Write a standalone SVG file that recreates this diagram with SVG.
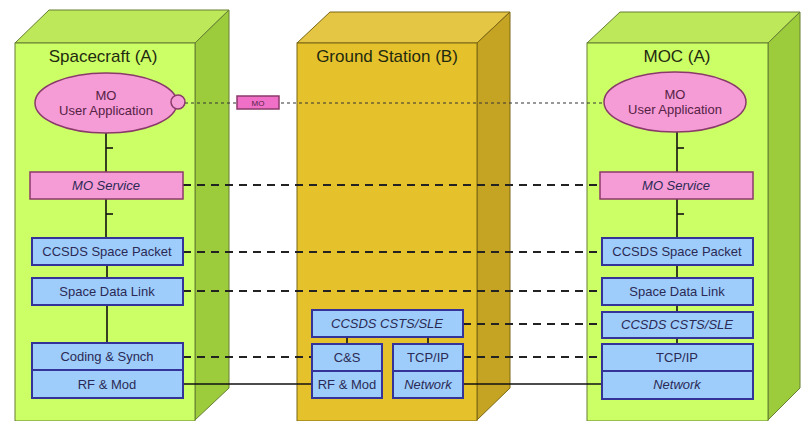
<svg xmlns="http://www.w3.org/2000/svg" width="801" height="421" viewBox="0 0 801 421">
<defs>
<style>
.front-g{fill:#ccff66;stroke:#667f33;stroke-width:1}
.side-g{fill:#9ccc3c;stroke:#667f33;stroke-width:1}
.top-g{fill:#bde85a;stroke:#667f33;stroke-width:1}
.front-y{fill:#e5c12c;stroke:#7a6614;stroke-width:1}
.side-y{fill:#c6a423;stroke:#7a6614;stroke-width:1}
.top-y{fill:#e4c544;stroke:#7a6614;stroke-width:1}
.title{font-family:"Liberation Sans",Arial,sans-serif;font-size:17px;fill:#1f2a10;text-anchor:middle}
.blue{fill:#9fcdfb;stroke:#33339a;stroke-width:2}
.pink{fill:#f59bd6;stroke:#8a3a6a;stroke-width:1.5}
.t{font-family:"Liberation Sans",Arial,sans-serif;font-size:13px;fill:#2a2a55;text-anchor:middle}
.ti{font-family:"Liberation Sans",Arial,sans-serif;font-size:13px;fill:#2a2a55;text-anchor:middle;font-style:italic}
.tp{font-family:"Liberation Sans",Arial,sans-serif;font-size:13px;fill:#552244;text-anchor:middle}
.solid{stroke:#111;stroke-width:1.6;fill:none}
.dash{stroke:#222;stroke-width:2;stroke-dasharray:8,6;fill:none}
.dot{stroke:#333;stroke-width:1;stroke-dasharray:3,3;fill:none}
</style>
</defs>

<g id="spacecraft">
<polygon class="top-g" points="15,43 49,10 229,10 195,43"/>
<polygon class="side-g" points="195,43 229,10 229,388 195,420"/>
<rect class="front-g" x="15" y="43" width="180" height="378"/>
<text class="title" x="103" y="62">Spacecraft (A)</text>
</g>

<g id="ground-station">
<polygon class="top-y" points="297,43 330,12 510,12 477,43"/>
<polygon class="side-y" points="477,43 510,12 510,388 477,420"/>
<rect class="front-y" x="297" y="43" width="180" height="378"/>
<text class="title" x="387" y="62">Ground Station (B)</text>
</g>

<g id="moc">
<polygon class="top-g" points="587,43 620,12 800,12 768,43"/>
<polygon class="side-g" points="768,43 800,12 800,388 768,420"/>
<rect class="front-g" x="587" y="43" width="181" height="378"/>
<text class="title" x="677" y="62">MOC (A)</text>
</g>

<g id="connectors">
<line class="dot" x1="185" y1="103" x2="604" y2="103"/>
<line class="dash" x1="183" y1="185" x2="600" y2="185"/>
<line class="dash" x1="183" y1="252" x2="602" y2="252"/>
<line class="dash" x1="183" y1="291" x2="602" y2="291"/>
<line class="dash" x1="463" y1="324" x2="602" y2="324"/>
<line class="dash" x1="183" y1="357" x2="312" y2="357"/>
<line class="dash" x1="463" y1="357" x2="602" y2="357"/>
<line class="solid" x1="183" y1="384" x2="312" y2="384"/>
<line class="solid" x1="463" y1="384" x2="602" y2="384"/>
<line class="solid" x1="106" y1="133" x2="106" y2="172"/>
<line class="solid" x1="106" y1="148" x2="113" y2="148"/>
<line class="solid" x1="106" y1="199" x2="106" y2="238"/>
<line class="solid" x1="106" y1="214" x2="113" y2="214"/>
<line class="solid" x1="107" y1="265" x2="107" y2="278"/>
<line class="solid" x1="107" y1="305" x2="107" y2="343"/>
<line class="solid" x1="677" y1="132" x2="677" y2="172"/>
<line class="solid" x1="677" y1="148" x2="684" y2="148"/>
<line class="solid" x1="677" y1="199" x2="677" y2="238"/>
<line class="solid" x1="677" y1="214" x2="684" y2="214"/>
<line class="solid" x1="677" y1="265" x2="677" y2="278"/>
<line class="solid" x1="677" y1="305" x2="677" y2="312"/>
<line class="solid" x1="677" y1="338" x2="677" y2="344"/>
<line class="solid" x1="347" y1="337" x2="347" y2="344"/>
<line class="solid" x1="428" y1="337" x2="428" y2="344"/>
</g>

<g id="sc-user-app">
<ellipse class="pink" cx="106" cy="103" rx="71" ry="30"/>
<text class="tp" x="106" y="100">MO</text>
<text class="tp" x="106" y="115">User Application</text>
</g>
<g id="sc-port">
<circle class="pink" cx="178" cy="102" r="7"/>
</g>
<g id="mo-label">
<rect x="237" y="96" width="42" height="13" fill="#f070c8" stroke="#8a3a6a" stroke-width="1.5"/>
<text class="tp" x="258" y="106" style="font-size:8px">MO</text>
</g>
<g id="sc-mo-service">
<rect class="pink" x="30" y="172" width="153" height="27"/>
<text class="ti" x="106" y="190">MO Service</text>
</g>
<g id="sc-space-packet">
<rect class="blue" x="32" y="238" width="151" height="27"/>
<text class="t" x="107" y="256">CCSDS Space Packet</text>
</g>
<g id="sc-data-link">
<rect class="blue" x="32" y="278" width="151" height="27"/>
<text class="t" x="107" y="296">Space Data Link</text>
</g>
<g id="sc-coding">
<rect class="blue" x="32" y="343" width="151" height="27"/>
<text class="t" x="107" y="361">Coding &amp; Synch</text>
</g>
<g id="sc-rf">
<rect class="blue" x="32" y="370" width="151" height="28"/>
<text class="t" x="107" y="389">RF &amp; Mod</text>
</g>

<g id="gs-csts">
<rect class="blue" x="312" y="310" width="151" height="27"/>
<text class="ti" x="387" y="328">CCSDS CSTS/SLE</text>
</g>
<g id="gs-cs">
<rect class="blue" x="312" y="344" width="70" height="27"/>
<text class="t" x="347" y="362">C&amp;S</text>
</g>
<g id="gs-rf">
<rect class="blue" x="312" y="371" width="70" height="27"/>
<text class="t" x="347" y="389">RF &amp; Mod</text>
</g>
<g id="gs-tcp">
<rect class="blue" x="393" y="344" width="70" height="27"/>
<text class="t" x="428" y="362">TCP/IP</text>
</g>
<g id="gs-network">
<rect class="blue" x="393" y="371" width="70" height="27"/>
<text class="ti" x="428" y="389">Network</text>
</g>

<g id="moc-user-app">
<ellipse class="pink" cx="675" cy="102" rx="71" ry="30"/>
<text class="tp" x="675" y="99">MO</text>
<text class="tp" x="675" y="114">User Application</text>
</g>
<g id="moc-mo-service">
<rect class="pink" x="600" y="172" width="153" height="27"/>
<text class="ti" x="676" y="190">MO Service</text>
</g>
<g id="moc-space-packet">
<rect class="blue" x="602" y="238" width="151" height="27"/>
<text class="t" x="677" y="256">CCSDS Space Packet</text>
</g>
<g id="moc-data-link">
<rect class="blue" x="602" y="278" width="151" height="27"/>
<text class="t" x="677" y="296">Space Data Link</text>
</g>
<g id="moc-csts">
<rect class="blue" x="602" y="312" width="151" height="26"/>
<text class="ti" x="677" y="329">CCSDS CSTS/SLE</text>
</g>
<g id="moc-tcp">
<rect class="blue" x="602" y="344" width="151" height="27"/>
<text class="t" x="677" y="362">TCP/IP</text>
</g>
<g id="moc-network">
<rect class="blue" x="602" y="371" width="151" height="28"/>
<text class="ti" x="677" y="389">Network</text>
</g>
</svg>
